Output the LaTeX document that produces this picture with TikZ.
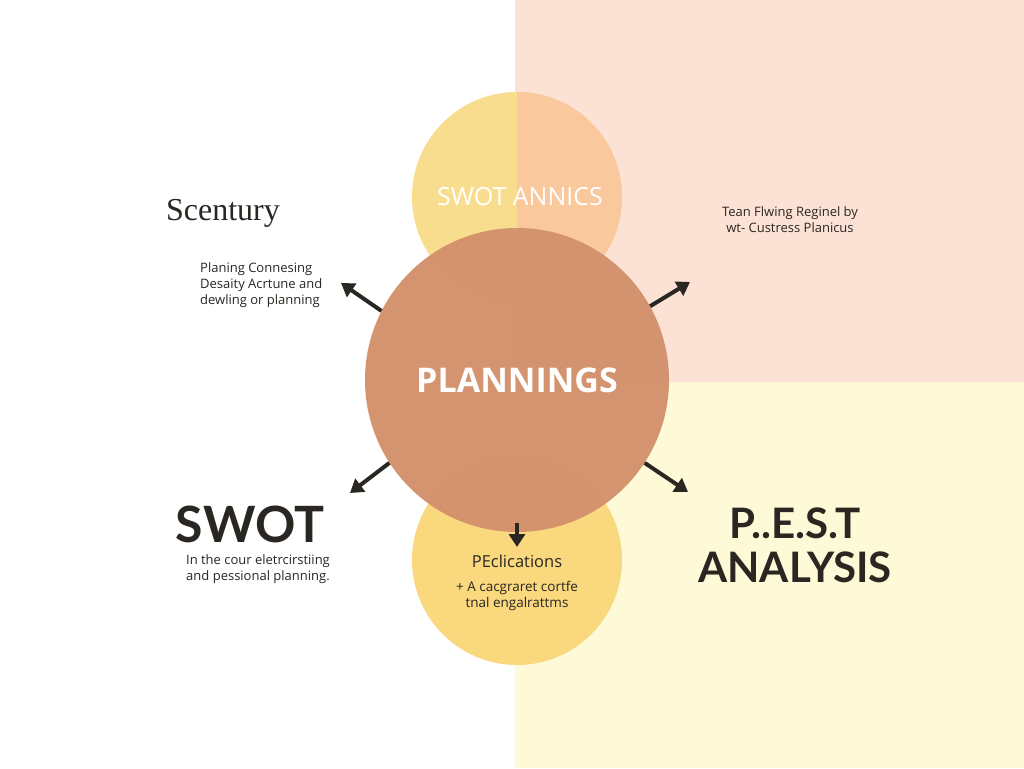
\documentclass[tikz,border=0pt]{standalone}
\usepackage{fontspec}
\usetikzlibrary{arrows.meta}
\newfontfamily\sansfont{Open Sans}
\newfontfamily\titlefont{Lato}
\newfontfamily\seriffont{Liberation Serif}
\definecolor{peachbg}{HTML}{FCE2D5}
\definecolor{yellowbg}{HTML}{FEF9D6}
\definecolor{topleft}{HTML}{F9DD8E}
\definecolor{topright}{HTML}{F9C89C}
\definecolor{midfill}{HTML}{D3916C}
\definecolor{lowfill}{HTML}{F9D87E}
\definecolor{ink}{HTML}{2A2622}
\tikzset{
  disc/.style={circle, inner sep=0pt, minimum size=210pt},
  bigdisc/.style={circle, inner sep=0pt, minimum size=304pt},
  pointer/.style={draw=ink, line width=4pt, -{Triangle[length=13pt,width=16pt]}},
  smalltext/.style={font=\sansfont\fontsize{13}{16}\selectfont, text=ink, inner sep=0pt}
}
\begin{document}
\begin{tikzpicture}[x=1pt,y=-1pt]
\useasboundingbox (0,0) rectangle (1024,768);
\fill[white] (0,0) rectangle (1024,768);
\fill[peachbg] (515,0) rectangle (1024,382);
\fill[yellowbg] (515,382) rectangle (1024,768);
\node[disc, fill=topleft] (swot) at (517,197) {};
\begin{scope}
\clip (517,80) rectangle (640,320);
\fill[topright] (swot.center) circle[radius=105pt];
\end{scope}
\node[disc, fill=lowfill] (pecl) at (517,560) {};
\node[bigdisc, fill=midfill, fill opacity=0.97] (plan) at (517,380) {};
\node[font=\sansfont\fontsize{34}{40}\selectfont\bfseries, text=white] (plantext) at (517,380) {PLANNINGS};
\node[font=\sansfont\fontsize{25}{30}\selectfont, text=white] (swottext) at (520,197) {SWOT ANNICS};
\coordinate (ul) at (341,283);
\coordinate (ur) at (690,282);
\coordinate (ll) at (350,493);
\coordinate (lr) at (688,492);
\coordinate (dn) at (517,547);
\draw[pointer] (plan.153) -- (ul);
\draw[pointer] (plan.29) -- (ur);
\draw[pointer] (plan.213) -- (ll);
\draw[pointer] (plan.-33) -- (lr);
\draw[pointer] ([yshift=9pt]plan.south) -- (dn);
\node[font=\seriffont\fontsize{32}{38}\selectfont, text=ink] (scentury) at (223,213) {Scentury};
\node[smalltext, align=left, anchor=north west] (scnote) at (200,262) {Planing Connesing\\Desaity Acrtune and\\dewling or planning};
\node[smalltext, align=center] (topnote) at (790,220) {Tean Flwing Reginel by\\wt- Custress Planicus};
\node[font=\titlefont\fontsize{50}{54}\selectfont\bfseries, text=ink] (swotbig) at (250,524) {SWOT};
\node[smalltext, align=center] (swotnote) at (258,569) {In the cour eletrcirstiing\\and pessional planning.};
\node[font=\titlefont\fontsize{42}{44}\selectfont\bfseries, text=ink, align=center] (pest) at (795,545) {P..E.S.T\\ANALYSIS};
\node[font=\sansfont\fontsize{16.5}{20}\selectfont, text=ink] (pectext) at (517,561) {PEclications};
\node[smalltext, font=\sansfont\fontsize{13.5}{16}\selectfont, align=center] (pecnote) at (517,596) {+ A cacgraret cortfe\\tnal engalrattms};
\end{tikzpicture}
\end{document}
